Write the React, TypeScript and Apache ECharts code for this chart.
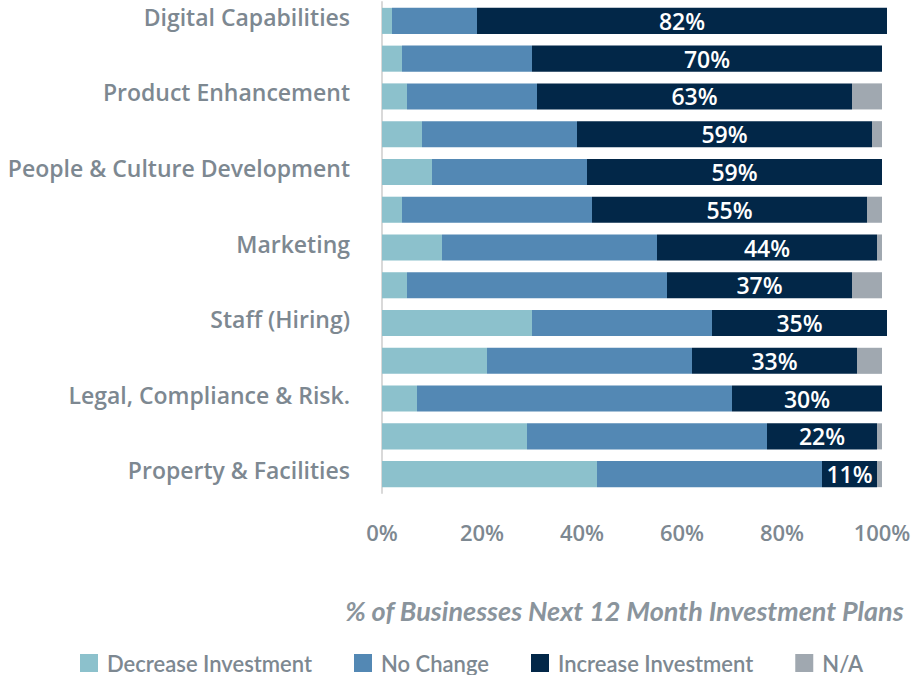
import React, { useEffect, useRef } from "react";
import * as echarts from "echarts";

const categories = [
  "Digital Capabilities",
  "Technology & Equipment",
  "Product Enhancement",
  "Training & Skills",
  "People & Culture Development",
  "Sustainability",
  "Marketing",
  "Research & Development",
  "Staff (Hiring)",
  "Staff (Wages)",
  "Legal, Compliance & Risk.",
  "Premises Expansion",
  "Property & Facilities",
];

const decreaseInvestment = [2, 4, 5, 8, 10, 4, 12, 5, 30, 21, 7, 29, 43];
const noChange = [17, 26, 26, 31, 31, 38, 43, 52, 36, 41, 63, 48, 45];
const increaseInvestment = [82, 70, 63, 59, 59, 55, 44, 37, 35, 33, 30, 22, 11];
const notApplicable = [0, 0, 6, 2, 0, 3, 1, 6, 0, 5, 0, 1, 1];

const xTicks = [0, 20, 40, 60, 80, 100];

const FONT = "'Open Sans', Lato, sans-serif";
const LFONT = "Lato, 'Open Sans', sans-serif";
const GREY = "#7d8891";

export default function App() {
  const ref = useRef<HTMLDivElement>(null);

  useEffect(() => {
    if (!ref.current) return;
    const chart = echarts.init(ref.current, null, { renderer: "svg" });
    const base = {
      type: "bar",
      stack: "total",
      barCategoryGap: "31%",
      clip: false,
      emphasis: { disabled: true },
    };
    chart.setOption({
      animation: false,
      textStyle: { fontFamily: FONT },
      title: {
        text: "% of Businesses Next 12 Month Investment Plans",
        right: 5,
        top: 592,
        textStyle: {
          fontFamily: LFONT,
          fontStyle: "italic",
          fontWeight: "bold",
          fontSize: 27,
          color: "#8a949c",
        },
      },
      legend: {
        left: 75,
        top: 647,
        icon: "rect",
        itemWidth: 18,
        itemHeight: 18,
        itemGap: 42,
        textStyle: { fontFamily: LFONT, fontSize: 22, color: GREY, fontWeight: 600, padding: [0, 0, 0, 4] },
        data: ["Decrease Investment", "No Change", "Increase Investment", "N/A"],
      },
      grid: { left: 382, right: 32, top: 2, height: 491 },
      xAxis: {
        type: "value",
        min: 0,
        max: 100,
        interval: 20,
        axisLine: { show: false },
        axisTick: { show: false },
        splitLine: { show: false },
        axisLabel: {
          margin: 28,
          fontSize: 22,
          fontWeight: 600,
          color: GREY,
          fontFamily: FONT,
          formatter: (v: number) => (xTicks.includes(v) ? v + "%" : ""),
        },
      },
      yAxis: {
        type: "category",
        data: categories,
        inverse: true,
        axisLine: { show: true, lineStyle: { color: "#d9d9d9", width: 2 } },
        axisTick: { show: false },
        axisLabel: {
          interval: 1,
          margin: 32,
          fontSize: 23,
          fontWeight: 600,
          color: GREY,
          fontFamily: FONT,
          lineHeight: 8,
          verticalAlign: "bottom",
        },
      },
      series: [
        { ...base, name: "Decrease Investment", data: decreaseInvestment, itemStyle: { color: "#8cc1cc" } },
        { ...base, name: "No Change", data: noChange, itemStyle: { color: "#5388b4" } },
        {
          ...base,
          name: "Increase Investment",
          data: increaseInvestment,
          itemStyle: { color: "#022748" },
          label: {
            show: true,
            position: "inside",
            color: "#ffffff",
            fontSize: 23,
            fontWeight: 600,
            fontFamily: FONT,
            formatter: (p: any) => p.value + "%",
          },
        },
        { ...base, name: "N/A", data: notApplicable, itemStyle: { color: "#a0a8b0" } },
      ],
    });
    return () => chart.dispose();
  }, []);

  return <div ref={ref} style={{ width: 914, height: 675, position: "absolute", left: 0, top: 0 }} />;
}
